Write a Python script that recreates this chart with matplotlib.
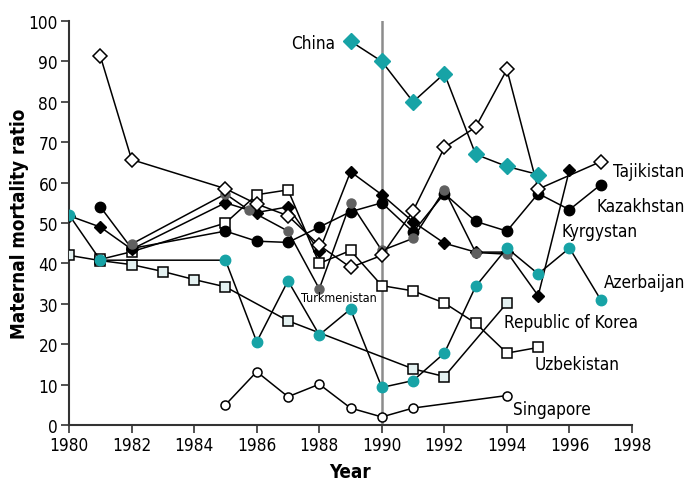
import matplotlib
matplotlib.use('Agg')
import matplotlib.pyplot as plt
from matplotlib import font_manager

# 使用窄体字体（找不到时用普通 DejaVu Sans）
cond = [f for f in font_manager.fontManager.ttflist if 'ondensed' in f.fname or 'Narrow' in f.fname]
if cond:
    plt.rcParams['font.family'] = [cond[0].name, 'DejaVu Sans']
    plt.rcParams['font.stretch'] = cond[0].stretch
else:
    plt.rcParams['font.family'] = ['DejaVu Sans']

# 各国孕产妇死亡率数据
china_x = [1989, 1990, 1991, 1992, 1993, 1994, 1995]
china_y = [95, 90, 80, 87, 67, 64, 62]

taj_x = [1981, 1982, 1985, 1986, 1987, 1988, 1989, 1990, 1991, 1992, 1993, 1994, 1995, 1997]
taj_y = [91.3, 65.7, 58.5, 54.7, 51.8, 44.5, 39, 42, 53, 68.7, 73.7, 88, 58.4, 65.2]

kaz_x = [1981, 1982, 1985, 1986, 1987, 1988, 1989, 1990, 1991, 1992, 1993, 1994, 1995, 1996, 1997]
kaz_y = [54, 43.7, 48, 45.5, 45.2, 49, 52.8, 55, 47.8, 57.3, 50.4, 48, 57.3, 53.3, 59.5]

kyr_x = [1980, 1981, 1982, 1985, 1986, 1987, 1988, 1989, 1990, 1991, 1992, 1993, 1994, 1995, 1996]
kyr_y = [51.8, 49, 43.5, 55, 52.6, 54, 43, 62.7, 57, 50.3, 45, 42.8, 42.8, 32, 63.2]

turk_x = [1982, 1985, 1985.75, 1987, 1988, 1989, 1990, 1991, 1992, 1993, 1994]
turk_y = [44.8, 57.2, 53.2, 48, 33.7, 55, 43.2, 46.2, 58.2, 42.7, 42.3]

aze_x = [1980, 1981, 1985, 1986, 1987, 1988, 1989, 1990, 1991, 1992, 1993, 1994, 1995, 1996, 1997]
aze_y = [52, 40.8, 40.8, 20.6, 35.7, 22.3, 28.7, 9.3, 11, 17.8, 34.3, 43.8, 37.4, 43.8, 31]

kor_x = [1980, 1981, 1982, 1983, 1984, 1985, 1987, 1991, 1992, 1994]
kor_y = [42, 40.7, 39.7, 38, 36, 34.2, 25.8, 13.9, 12, 30.2]

uzb_x = [1981, 1982, 1985, 1986, 1987, 1988, 1989, 1990, 1991, 1992, 1993, 1994, 1995]
uzb_y = [41, 42.9, 50, 57, 58.2, 40, 43.2, 34.5, 33.2, 30.2, 25.2, 17.8, 19.2]

sin_x = [1985, 1986, 1987, 1988, 1989, 1990, 1991, 1994]
sin_y = [5, 13.2, 7, 10.1, 4.2, 2, 4.2, 7.3]

teal = '#17a3a6'

fig = plt.figure(figsize=(6.84, 4.85), dpi=100)
ax = fig.add_axes([0.101, 0.1216, 0.823, 0.833])

# 1990年的竖线
ax.axvline(1990, color='#8c8c8c', lw=1.8, zorder=1)

lw = 1.1
ax.plot(kor_x, kor_y, '-s', color='black', lw=lw, ms=7, mfc='#e4f1f1', mec='black', mew=1.1, zorder=3)
ax.plot(uzb_x, uzb_y, '-s', color='black', lw=lw, ms=7.5, mfc='white', mec='black', mew=1.1, zorder=3)
ax.plot(sin_x, sin_y, '-o', color='black', lw=lw, ms=6.5, mfc='white', mec='black', mew=1.1, zorder=3)
ax.plot(kaz_x, kaz_y, '-o', color='black', lw=lw, ms=7.5, mfc='black', mec='black', zorder=3)
ax.plot(kyr_x, kyr_y, '-D', color='black', lw=lw, ms=6, mfc='black', mec='black', zorder=3)
ax.plot(turk_x, turk_y, '-o', color='black', lw=lw, ms=6.5, mfc='#606060', mec='#606060', zorder=3)
ax.plot(aze_x, aze_y, '-o', color='black', lw=lw, ms=7.5, mfc=teal, mec=teal, zorder=3)
ax.plot(taj_x, taj_y, '-D', color='black', lw=lw, ms=7.5, mfc='white', mec='black', mew=1.1, zorder=3)
ax.plot(china_x, china_y, '-D', color='black', lw=lw, ms=8, mfc=teal, mec=teal, zorder=3)

# 各国名称标注
fs = 12.3
ax.text(1988.5, 94.6, 'China', fontsize=fs, ha='right', va='center')
ax.text(1997.4, 63, 'Tajikistan', fontsize=fs, va='center')
ax.text(1996.85, 54.3, 'Kazakhstan', fontsize=fs, va='center')
ax.text(1995.75, 48, 'Kyrgystan', fontsize=fs, va='center')
ax.text(1997.1, 35.4, 'Azerbaijan', fontsize=fs, va='center')
ax.text(1993.9, 25.6, 'Republic of Korea', fontsize=fs, va='center')
ax.text(1994.9, 15, 'Uzbekistan', fontsize=fs, va='center')
ax.text(1994.2, 4, 'Singapore', fontsize=fs, va='center')
ax.text(1987.4, 31.5, 'Turkmenistan', fontsize=9, va='center')

ax.set_xlim(1980, 1998)
ax.set_ylim(0, 100)
ax.set_xticks(range(1980, 1999, 2))
ax.set_yticks(range(0, 101, 10))
ax.tick_params(labelsize=fs, direction='out', length=6, width=1.2, color='#333333', pad=2)
for s in ['top', 'right']:
    ax.spines[s].set_visible(False)
for s in ['left', 'bottom']:
    ax.spines[s].set_linewidth(1.5)
    ax.spines[s].set_color('#333333')

ax.set_xlabel('Year', fontsize=13.5, fontweight='bold', labelpad=6)
ax.set_ylabel('Maternal mortality ratio', fontsize=13.5, fontweight='bold', labelpad=0)

plt.savefig('out.png', dpi=100)
